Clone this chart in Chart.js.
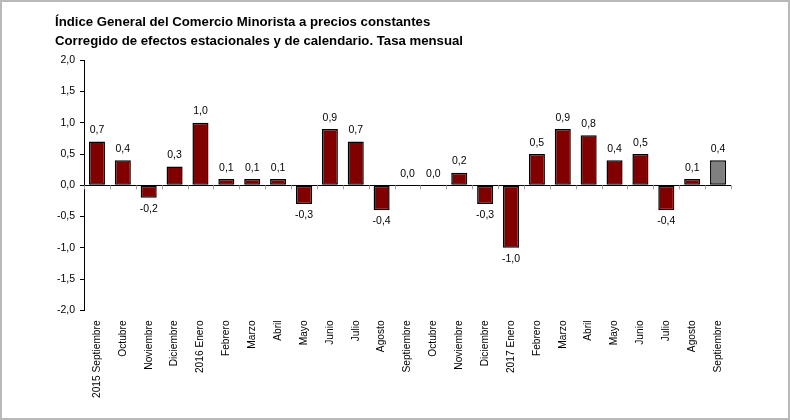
<!DOCTYPE html>
<html><head><meta charset="utf-8">
<script src="https://cdn.jsdelivr.net/npm/chart.js@4.4.1/dist/chart.umd.min.js"></script>
<style>
html,body{margin:0;padding:0;background:#fff;}
#wrap{position:relative;width:790px;height:420px;box-sizing:border-box;border:2px solid #b9b9b9;}
canvas{display:block;}
</style></head><body>
<div id="wrap"><canvas id="c" width="786" height="416"></canvas></div>
<script>
const titleLines = ['Índice General del Comercio Minorista a precios constantes','Corregido de efectos estacionales y de calendario. Tasa mensual'];
const categories = ['2015 Septiembre','Octubre','Noviembre','Diciembre','2016 Enero','Febrero','Marzo','Abril','Mayo','Junio','Julio','Agosto','Septiembre','Octubre','Noviembre','Diciembre','2017 Enero','Febrero','Marzo','Abril','Mayo','Junio','Julio','Agosto','Septiembre'];
const values = [0.7,0.4,-0.2,0.3,1.0,0.1,0.1,0.1,-0.3,0.9,0.7,-0.4,0.0,0.0,0.2,-0.3,-1.0,0.5,0.9,0.8,0.4,0.5,-0.4,0.1,0.4];
const yMin = -2, yMax = 2, yStep = 0.5;
const fmt = v => v.toFixed(1).replace('.', ',');
const FONT = "'Liberation Sans', Arial, sans-serif";

const barColors = values.map((v,i) => i === values.length-1 ? '#808080' : '#800000');

const labelsPlugin = {
  id: 'valLabels',
  afterDatasetsDraw(chart) {
    const ctx = chart.ctx;
    const meta = chart.getDatasetMeta(0);
    const y = chart.scales.y;
    const x = chart.scales.x;
    const y0 = y.getPixelForValue(0);
    ctx.save();
    ctx.strokeStyle = '#a0a0a0';
    ctx.lineWidth = 1;
    for (let i = 0; i <= categories.length; i++) {
      let px;
      if (i === 0) px = x.left; else if (i === categories.length) px = x.right;
      else px = (x.getPixelForValue(i-1) + x.getPixelForValue(i)) / 2;
      ctx.beginPath();
      ctx.moveTo(Math.round(px)+0.5, y0);
      ctx.lineTo(Math.round(px)+0.5, y0+4);
      ctx.stroke();
    }
    ctx.fillStyle = '#000';
    ctx.font = "10.5px " + FONT;
    ctx.textAlign = 'center';
    meta.data.forEach((bar, i) => {
      const v = values[i];
      if (v >= 0) {
        ctx.textBaseline = 'bottom';
        ctx.fillText(fmt(v), bar.x, bar.y - 6);
      } else {
        ctx.textBaseline = 'top';
        ctx.fillText(fmt(v), bar.x, bar.y + 6);
      }
    });
    ctx.restore();
  }
};

new Chart(document.getElementById('c'), {
  type: 'bar',
  data: {
    labels: categories,
    datasets: [{
      data: values,
      backgroundColor: barColors,
      borderColor: '#000',
      borderWidth: 1.5,
      borderSkipped: false,
      barPercentage: 0.62,
      categoryPercentage: 1.0
    }]
  },
  options: {
    responsive: false,
    animation: false,
    devicePixelRatio: 1,
    layout: { padding: { left: 53, right: 57, top: 11, bottom: 18 } },
    plugins: {
      legend: { display: false },
      tooltip: { enabled: false },
      title: {
        display: true,
        text: titleLines,
        align: 'start',
        color: '#000',
        font: { family: FONT, size: 13.2, weight: 'bold', lineHeight: 1.43 },
        padding: { top: 0, bottom: 9.5 }
      }
    },
    scales: {
      x: {
        grid: { display: false },
        border: { display: false },
        ticks: {
          color: '#000',
          font: { family: FONT, size: 10.2 },
          minRotation: 90, maxRotation: 90,
          autoSkip: false,
          padding: 2
        }
      },
      y: {
        min: yMin, max: yMax,
        afterFit(scale) { scale.width = 29; },
        grid: {
          color: ctx => (ctx.tick && ctx.tick.value === 0) ? '#000' : 'rgba(0,0,0,0)',
          tickColor: '#000',
          tickLength: 4,
          lineWidth: 1
        },
        border: { display: true, color: '#000', width: 1 },
        ticks: {
          stepSize: yStep,
          color: '#000',
          font: { family: FONT, size: 10.5 },
          padding: 5,
          callback: v => fmt(v)
        }
      }
    }
  },
  plugins: [labelsPlugin]
});
</script>
</body></html>
